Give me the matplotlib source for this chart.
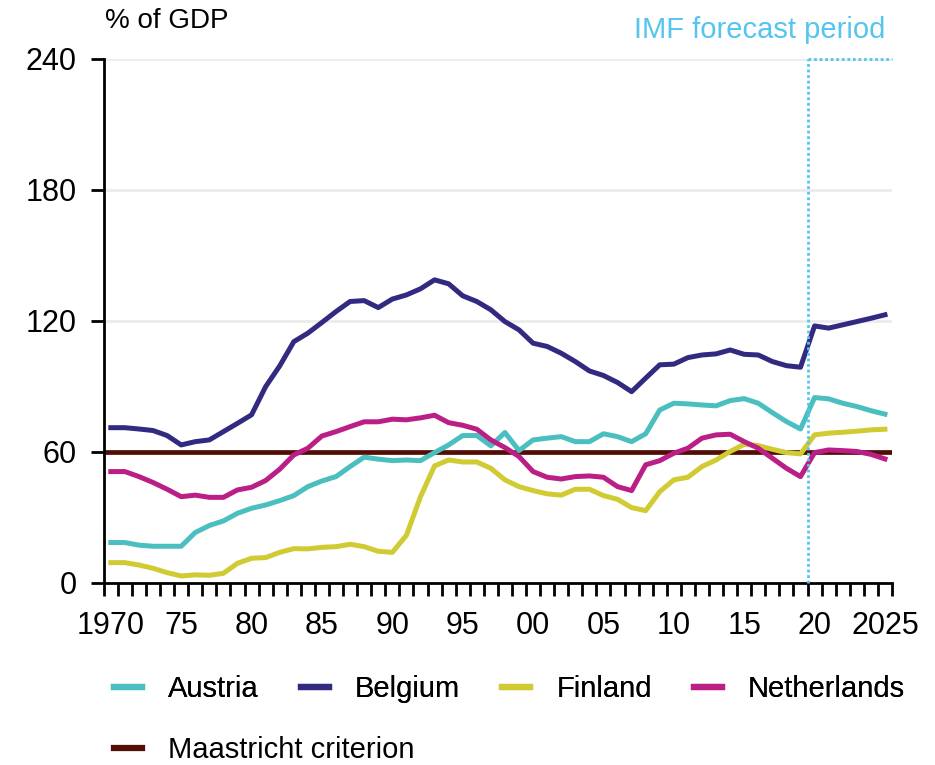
import numpy as np
import matplotlib
matplotlib.use('Agg')
from matplotlib import pyplot as plt
from matplotlib.lines import Line2D

years = list(range(1970, 2026))

austria = [18.5, 18.5, 17.3, 16.8, 16.8, 16.8, 23.1, 26.3, 28.4, 31.9,
           34.2, 35.7, 37.7, 40.0, 44.1, 46.7, 48.7, 53.3, 57.6, 56.7,
           56.0, 56.3, 56.0, 59.7, 63.2, 67.5, 67.5, 62.8, 68.9, 60.6,
           65.5, 66.3, 67.0, 64.7, 64.7, 68.3, 67.0, 64.7, 68.3, 79.2,
           82.3, 82.0, 81.5, 81.1, 83.5, 84.4, 82.3, 78.0, 73.9, 70.5,
           84.9, 84.3, 82.3, 80.8, 78.9, 77.3]
belgium = [71.1, 71.1, 70.5, 69.8, 67.5, 63.2, 64.7, 65.5, 69.3, 73.1,
           77.0, 89.9, 99.4, 110.5, 114.4, 119.3, 124.3, 128.9, 129.3, 126.1,
           130.0, 131.9, 134.7, 138.8, 137.0, 131.5, 128.9, 125.1, 119.7, 115.9,
           109.8, 108.3, 105.2, 101.4, 97.1, 95.0, 91.8, 87.6, 93.8, 99.9,
           100.2, 103.2, 104.4, 104.9, 106.7, 104.7, 104.4, 101.4, 99.5, 98.8,
           117.7, 116.7, 118.2, 119.7, 121.2, 122.8]
finland = [9.3, 9.3, 8.2, 6.7, 4.7, 3.2, 3.7, 3.5, 4.4, 9.0,
           11.3, 11.6, 14.0, 15.7, 15.6, 16.3, 16.6, 17.7, 16.6, 14.5,
           14.0, 21.8, 39.5, 53.6, 56.3, 55.4, 55.4, 52.5, 47.2, 44.1,
           42.3, 40.8, 40.2, 42.9, 42.9, 40.0, 38.3, 34.5, 33.1, 41.8,
           47.2, 48.4, 53.3, 56.3, 60.2, 63.5, 62.9, 61.2, 59.7, 59.1,
           67.8, 68.6, 69.0, 69.5, 70.1, 70.4]
netherlands = [51.0, 51.0, 48.7, 46.0, 42.9, 39.5, 40.2, 39.2, 39.2, 42.6,
               43.8, 46.9, 52.1, 58.6, 61.7, 67.3, 69.3, 71.6, 73.8, 73.8,
               75.0, 74.7, 75.6, 76.8, 73.4, 72.2, 70.4, 65.5, 62.0, 57.9,
               51.0, 48.4, 47.6, 48.7, 49.0, 48.4, 44.1, 42.3, 54.1, 56.0,
               59.4, 61.7, 66.3, 67.8, 68.1, 64.7, 61.7, 57.1, 52.5, 48.7,
               59.7, 60.9, 60.6, 60.2, 58.9, 56.8]
maastricht = 60
forecast_start = 2019.5

tick_years = [1970, 1975, 1980, 1985, 1990, 1995, 2000, 2005, 2010, 2015, 2020, 2025]
tick_labels = ['1970', '75', '80', '85', '90', '95', '00', '05', '10', '15', '20', '2025']

colors = {'Austria': '#4bbfbf', 'Belgium': '#322a80', 'Finland': '#d0cb32',
          'Netherlands': '#bb1f86'}
maas_color = '#520e05'
fc_color = '#55c4ef'

plt.rcParams['font.family'] = ['Liberation Sans', 'DejaVu Sans']

fig = plt.figure(figsize=(9.35, 7.65), dpi=100)
ax = fig.add_axes([0.111, 0.238, 0.843, 0.685])

for y in [60, 120, 180, 240]:
    ax.axhline(y, color='#ebebeb', lw=2, zorder=0)

ax.axhline(maastricht, color=maas_color, lw=3.4, zorder=2)
ax.plot(years, austria, color=colors['Austria'], lw=3.6, zorder=3)
ax.plot(years, belgium, color=colors['Belgium'], lw=3.6, zorder=3)
ax.plot(years, finland, color=colors['Finland'], lw=3.6, zorder=3)
ax.plot(years, netherlands, color=colors['Netherlands'], lw=3.6, zorder=3)

ax.plot([forecast_start, forecast_start], [0, 240], color=fc_color, lw=2,
        ls=(0, (1, 1)), zorder=4, clip_on=False)
ax.plot([forecast_start, 2025.5], [240, 240], color=fc_color, lw=2,
        ls=(0, (1, 1)), zorder=4, clip_on=False)
ax.text(2025, 247, 'IMF forecast period', color=fc_color, fontsize=21,
        ha='right', va='bottom')

ax.set_xlim(1969.5, 2025.5)
ax.set_ylim(0, 240)
ax.set_yticks([0, 60, 120, 180, 240])
ax.set_xticks(tick_years)
ax.set_xticklabels(tick_labels)
ax.set_xticks(np.arange(1969.5, 2026, 1), minor=True)
ax.tick_params(axis='x', which='major', length=0, labelsize=22, pad=20)
ax.tick_params(axis='x', which='minor', length=9, width=2, direction='out')
ax.tick_params(axis='y', length=9.5, width=2, labelsize=22, pad=10)

for s in ['top', 'right']:
    ax.spines[s].set_visible(False)
for s in ['left', 'bottom']:
    ax.spines[s].set_linewidth(2)

fig.text(0.112, 0.956, '% of GDP', fontsize=20, ha='left', va='bottom')

handles = [Line2D([], [], color=colors[k], lw=4.5) for k in colors]
leg1 = fig.legend(handles, list(colors.keys()), loc='center left',
                  bbox_to_anchor=(0.094, 0.099), ncol=4, frameon=False,
                  fontsize=21, handlelength=0.95, columnspacing=1.45,
                  handletextpad=0.9)
fig.legend([Line2D([], [], color=maas_color, lw=4.5)], ['Maastricht criterion'],
           loc='center left', bbox_to_anchor=(0.094, 0.019), frameon=False,
           fontsize=21, handlelength=0.95, handletextpad=0.9)
fig.add_artist(leg1)

fig.savefig('out.png', dpi=100)
